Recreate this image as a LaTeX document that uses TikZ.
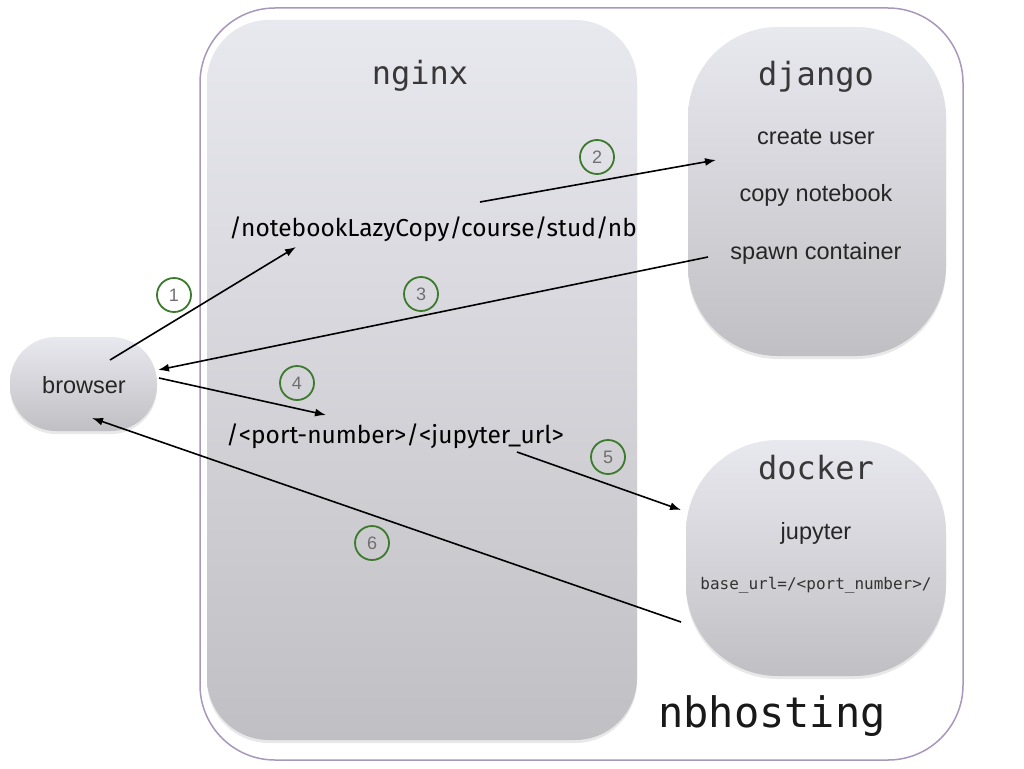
\documentclass[tikz,border=0pt]{standalone}
\usepackage{fontspec}
\setmainfont{Liberation Sans}
\newfontfamily\monof{DejaVu Sans Mono}
\newfontfamily\pathf{Fira Sans}
\usetikzlibrary{arrows.meta,shadows}
\definecolor{outerc}{HTML}{A898BC}
\definecolor{topg}{HTML}{E8E8EF}
\definecolor{botg}{HTML}{C0C0C4}
\definecolor{numgreen}{HTML}{3C7A2C}
\definecolor{numtext}{HTML}{707070}
\tikzset{
  panel/.style={draw=none, top color=topg, bottom color=botg, inner sep=0pt,
    drop shadow={opacity=0.18, shadow xshift=0pt, shadow yshift=-3pt}},
  titletext/.style={font=\monof\fontsize{32}{36}\selectfont, text=black!78},
  itemtext/.style={font=\fontsize{23.5}{27}\selectfont, text=black!85},
  pathtext/.style={font=\pathf\fontsize{24.5}{28}\selectfont, text=black},
  numcirc/.style={circle, draw=numgreen, line width=1.8pt, minimum size=34pt, inner sep=0pt,
    font=\fontsize{18}{20}\selectfont, text=numtext},
  flow/.style={line width=1.6pt, -{Latex[length=11pt,width=8pt]}},
}
\begin{document}
\begin{tikzpicture}[x=1pt,y=-1pt]
\useasboundingbox (0,0) rectangle (1024,768);
\fill[white] (0,0) rectangle (1024,768);
% outer nbhosting
\draw[outerc, line width=1.5pt, rounded corners=75pt] (200,8) rectangle (963,760);
% nginx
\path[panel, rounded corners=62pt] (207,20) rectangle (637,740);
% django
\path[panel, rounded corners=90pt] (688,27) rectangle (946,356);
% docker
\path[panel, rounded corners=92pt] (686,440) rectangle (946,676);
% browser
\path[panel, rounded corners=46pt] (10,337) rectangle (157,431);

\node[titletext] (nginx) at (420,76) {nginx};
\node[titletext] (django) at (816,77) {django};
\node[itemtext] (cu) at (816,137) {create user};
\node[itemtext] (cn) at (816,195) {copy notebook};
\node[itemtext] (sc) at (816,253) {spawn container};
\node[titletext] (docker) at (816,468) {docker};
\node[itemtext] (jup) at (816,533) {jupyter};
\node[font=\monof\fontsize{16}{18}\selectfont, text=black!80] (base) at (816,585) {base\_url=/<port\_number>/};
\node[font=\monof\fontsize{42}{46}\selectfont, text=black!90] (nbh) at (772,716) {nbhosting};
\node[itemtext] (browser) at (84,385) {browser};
\node[pathtext] (p1) at (433,229) {/notebookLazyCopy/course/stud/nb};
\node[pathtext] (p2) at (395,436) {/<port-number>/<jupyter\_url>};

\node[numcirc] (n1) at (174,295) {1};
\node[numcirc] (n2) at (597,157) {2};
\node[numcirc] (n3) at (421,294) {3};
\node[numcirc] (n4) at (297,383) {4};
\node[numcirc] (n5) at (608,457) {5};
\node[numcirc] (n6) at (372,543) {6};

\coordinate (a1s) at (110,360); \coordinate (a1e) at (296,247);
\coordinate (a2s) at (480,202); \coordinate (a2e) at (716,160);
\coordinate (a3s) at (708,257); \coordinate (a3e) at (158,370);
\coordinate (a4s) at (159,378); \coordinate (a4e) at (326,415);
\coordinate (a5s) at (517,452); \coordinate (a5e) at (681,510);
\coordinate (a6s) at (681,622); \coordinate (a6e) at (92,418);

\draw[flow] (a1s) -- (a1e);
\draw[flow] (a2s) -- (a2e);
\draw[flow] (a3s) -- (a3e);
\draw[flow] (a4s) -- (a4e);
\draw[flow] (a5s) -- (a5e);
\draw[flow] (a6s) -- (a6e);
\end{tikzpicture}
\end{document}
